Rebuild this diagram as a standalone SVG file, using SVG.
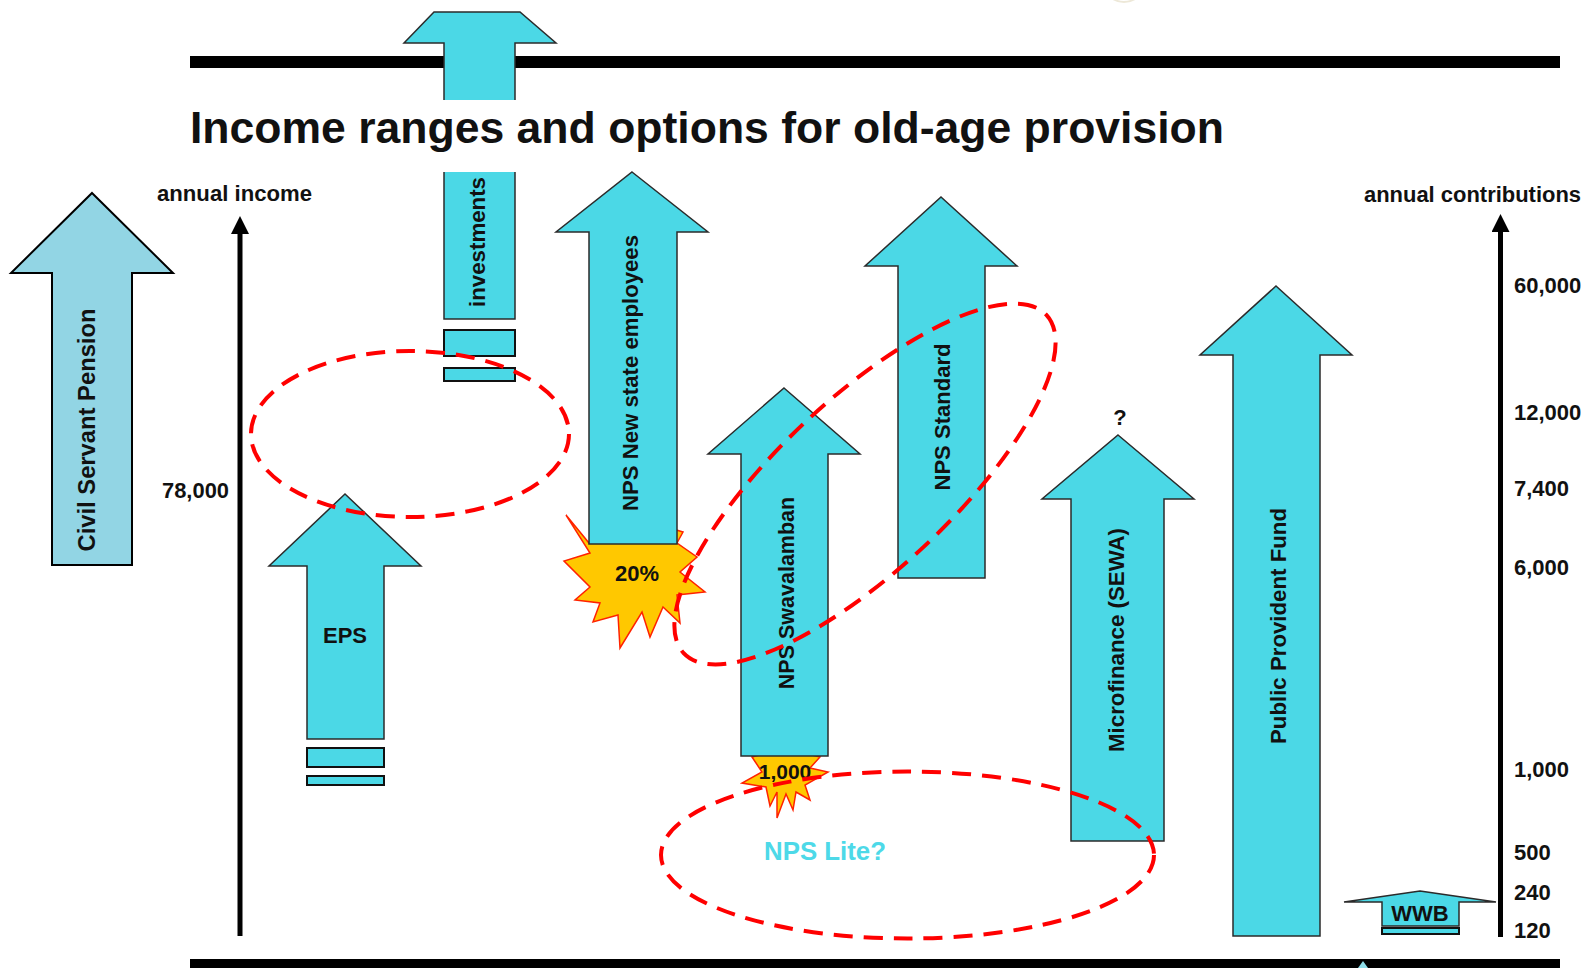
<svg xmlns="http://www.w3.org/2000/svg" width="1587" height="968" viewBox="0 0 1587 968">
  <defs>
    <style>
      .arrow { fill:#4BD8E6; stroke:#2b2b2b; stroke-width:1.5; stroke-linejoin:miter; }
      .civil { fill:#92D5E4; stroke:#000; stroke-width:2; }
      .box { fill:#4BD8E6; stroke:#111; stroke-width:2; }
      .lbl { font-family:"Liberation Sans", Arial, Helvetica, sans-serif; font-weight:bold; font-size:22px; fill:#111; }
      .ring { fill:none; stroke:#FF0000; stroke-width:4; stroke-dasharray:19 11; }
      .burst { fill:#FFC800; stroke:#FF2200; stroke-width:1.5; stroke-linejoin:miter; }
      .bar { fill:#000; }
      .axis { stroke:#000; stroke-width:5; fill:none; }
    </style>
    <marker id="axisHead" markerUnits="userSpaceOnUse" markerWidth="18" markerHeight="18" refX="0" refY="9" orient="auto">
      <path d="M0,0 L18,9 L0,18 z" fill="#000"/>
    </marker>
  </defs>

  <rect width="1587" height="968" fill="#fff"/>

  <!-- faint decoration peeking in at the top edge -->
  <ellipse cx="1124" cy="-26" rx="24" ry="28" fill="none" stroke="#E6DEC8" stroke-width="2" opacity="0.7"/>

  <!-- frame bars -->
  <rect class="bar" x="190" y="56" width="1370" height="12"/>
  <rect class="bar" x="190" y="959" width="1370" height="9"/>
  <polygon points="1358,968 1363,961 1368,968" fill="#8FDFEA"/>

  <!-- investments: arrow head above the title band, shaft below it -->
  <g id="investments">
    <polygon class="arrow" points="434,12 520,12 556,43 515,43 515,319 444,319 444,43 404,43"/>
    <rect x="428" y="100" width="100" height="72" fill="#fff"/>
    <rect class="box" x="444" y="330" width="71" height="26"/>
    <rect class="box" x="444" y="368" width="71" height="13"/>
    <text class="lbl" transform="translate(477,242) rotate(-90)" x="0" y="8" text-anchor="middle" textLength="130" lengthAdjust="spacingAndGlyphs">investments</text>
  </g>

  <!-- title -->
  <text x="190" y="143" font-family="'Liberation Sans', Arial, Helvetica, sans-serif" font-weight="bold" font-size="44" fill="#111" textLength="1034" lengthAdjust="spacingAndGlyphs">Income ranges and options for old-age provision</text>

  <!-- axes -->
  <g id="connectors">
    <line class="axis" x1="240" y1="936" x2="240" y2="234" marker-end="url(#axisHead)"/>
    <line class="axis" x1="1500.5" y1="937" x2="1500.5" y2="232" marker-end="url(#axisHead)"/>
  </g>

  <!-- axis captions and scale values -->
  <g id="axis-labels">
    <text class="lbl" x="157" y="201" textLength="155" lengthAdjust="spacingAndGlyphs">annual income</text>
    <text class="lbl" x="1364" y="202" textLength="217" lengthAdjust="spacingAndGlyphs">annual contributions</text>
    <text class="lbl" x="162" y="498" textLength="67" lengthAdjust="spacingAndGlyphs">78,000</text>
    <text class="lbl" x="1514" y="293">60,000</text>
    <text class="lbl" x="1514" y="420">12,000</text>
    <text class="lbl" x="1514" y="496">7,400</text>
    <text class="lbl" x="1514" y="575">6,000</text>
    <text class="lbl" x="1514" y="777">1,000</text>
    <text class="lbl" x="1514" y="860">500</text>
    <text class="lbl" x="1514" y="900">240</text>
    <text class="lbl" x="1514" y="938">120</text>
  </g>

  <g id="civil-servant-pension">
    <polygon class="civil" points="92,193 173,273 132,273 132,565 52,565 52,273 11,273"/>
    <text class="lbl" transform="translate(86.5,430) rotate(-90)" x="0" y="8.6" text-anchor="middle" style="font-size:24px" textLength="243" lengthAdjust="spacingAndGlyphs">Civil Servant Pension</text>
  </g>

  <g id="eps">
    <polygon class="arrow" points="345,494 421,566 384,566 384,739 307,739 307,566 269,566"/>
    <rect class="box" x="307" y="748" width="77" height="19"/>
    <rect class="box" x="307" y="776" width="77" height="9"/>
    <text class="lbl" x="345" y="643" text-anchor="middle">EPS</text>
  </g>

  <g id="nps-new-state">
    <polygon class="burst" points="566,515 589,543 620,530 660,525 683,532 677,543 697,557 680,572 705,592 677,595 680,623 663,607 650,637 642,612 620,648 618,615 593,622 600,603 575,600 590,587 564,561 590,553"/>
    <polygon class="arrow" points="632,172 708,232 677,232 677,544 589,544 589,232 556,232"/>
    <text class="lbl" transform="translate(629.5,373) rotate(-90)" x="0" y="8" text-anchor="middle" textLength="276" lengthAdjust="spacingAndGlyphs">NPS New state employees</text>
    <text class="lbl" x="637" y="581" text-anchor="middle">20%</text>
  </g>

  <g id="nps-swavalamban">
    <polygon class="burst" points="752,757 762,772 742,783 766,787 770,806 777,792 777,818 786,794 793,810 796,792 810,800 805,785 828,772 810,768 820,757 800,752 770,752"/>
    <polygon class="arrow" points="784,388 860,454 828,454 828,756 741,756 741,454 708,454"/>
    <text class="lbl" transform="translate(786,593) rotate(-90)" x="0" y="8" text-anchor="middle" style="font-size:21.5px">NPS Swavalamban</text>
    <text class="lbl" x="785" y="779" text-anchor="middle" style="font-size:21px">1,000</text>
  </g>

  <g id="nps-standard">
    <polygon class="arrow" points="941,197 1017,266 985,266 985,578 898,578 898,266 865,266"/>
    <text class="lbl" transform="translate(941.5,417) rotate(-90)" x="0" y="8" text-anchor="middle" textLength="147" lengthAdjust="spacingAndGlyphs">NPS Standard</text>
  </g>

  <g id="microfinance">
    <polygon class="arrow" points="1118,435 1194,499 1164,499 1164,841 1071,841 1071,499 1042,499"/>
    <text class="lbl" x="1120" y="425" text-anchor="middle">?</text>
    <text class="lbl" transform="translate(1116,640) rotate(-90)" x="0" y="8" text-anchor="middle" textLength="224" lengthAdjust="spacingAndGlyphs">Microfinance (SEWA)</text>
  </g>

  <g id="public-provident-fund">
    <polygon class="arrow" points="1276,286 1352,355 1320,355 1320,936 1233,936 1233,355 1200,355"/>
    <text class="lbl" transform="translate(1278,626) rotate(-90)" x="0" y="8" text-anchor="middle" textLength="236" lengthAdjust="spacingAndGlyphs">Public Provident Fund</text>
  </g>

  <g id="wwb">
    <polygon class="arrow" points="1420,891 1496,902 1459,902 1459,926 1382,926 1382,902 1344,902"/>
    <rect class="box" x="1382" y="928" width="77" height="6"/>
    <text class="lbl" x="1420" y="921" text-anchor="middle">WWB</text>
  </g>

  <!-- dashed groupings -->
  <g id="groupings">
    <ellipse class="ring" cx="410" cy="434" rx="159" ry="83"/>
    <ellipse class="ring" cx="865" cy="484" rx="248" ry="86" transform="rotate(-43 865 484)"/>
    <ellipse class="ring" cx="907.5" cy="855" rx="246.5" ry="83.5"/>
  </g>

  <g id="nps-lite">
    <text x="825" y="860" text-anchor="middle" font-family="'Liberation Sans', Arial, Helvetica, sans-serif" font-weight="bold" font-size="25" fill="#4DD9E8" textLength="122" lengthAdjust="spacingAndGlyphs">NPS Lite?</text>
  </g>
</svg>
